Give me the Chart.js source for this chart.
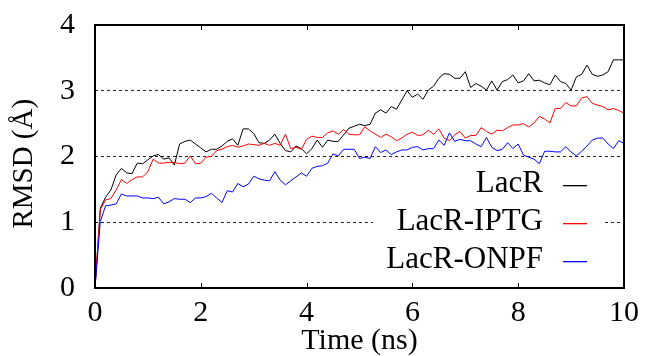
<!DOCTYPE html>
<html>
<head>
<meta charset="utf-8">
<script src="https://cdn.jsdelivr.net/npm/chart.js@4/dist/chart.umd.min.js"></script>
<style>
  html, body { margin: 0; padding: 0; background: #fff; }
  canvas { display: block; }
</style>
</head>
<body>
<canvas id="rmsd" width="645" height="356"></canvas>
<script>
// Time axis (ns), one sample every 0.1 ns
const timeNs = [
  0.0, 0.1, 0.2, 0.3, 0.4, 0.5, 0.6, 0.7, 0.8, 0.9,
  1.0, 1.1, 1.2, 1.3, 1.4, 1.5, 1.6, 1.7, 1.8, 1.9,
  2.0, 2.1, 2.2, 2.3, 2.4, 2.5, 2.6, 2.7, 2.8, 2.9,
  3.0, 3.1, 3.2, 3.3, 3.4, 3.5, 3.6, 3.7, 3.8, 3.9,
  4.0, 4.1, 4.2, 4.3, 4.4, 4.5, 4.6, 4.7, 4.8, 4.9,
  5.0, 5.1, 5.2, 5.3, 5.4, 5.5, 5.6, 5.7, 5.8, 5.9,
  6.0, 6.1, 6.2, 6.3, 6.4, 6.5, 6.6, 6.7, 6.8, 6.9,
  7.0, 7.1, 7.2, 7.3, 7.4, 7.5, 7.6, 7.7, 7.8, 7.9,
  8.0, 8.1, 8.2, 8.3, 8.4, 8.5, 8.6, 8.7, 8.8, 8.9,
  9.0, 9.1, 9.2, 9.3, 9.4, 9.5, 9.6, 9.7, 9.8, 9.9,
  10.0
];

// RMSD (Angstrom)
const lacR = [
  0.00, 1.21, 1.38, 1.49, 1.72, 1.82, 1.75, 1.74, 1.90, 1.89,
  1.95, 2.01, 2.03, 1.96, 1.98, 1.87, 2.19, 2.23, 2.25, 2.19,
  2.13, 2.07, 2.11, 2.11, 2.16, 2.23, 2.27, 2.17, 2.42, 2.42,
  2.35, 2.21, 2.20, 2.25, 2.34, 2.20, 2.09, 2.07, 2.16, 2.12,
  2.04, 2.12, 2.25, 2.14, 2.25, 2.23, 2.23, 2.33, 2.43, 2.46,
  2.49, 2.47, 2.49, 2.66, 2.71, 2.66, 2.76, 2.72, 2.86, 3.00,
  2.90, 2.95, 2.87, 3.01, 3.07, 3.19, 3.26, 3.25, 3.19, 3.19,
  3.29, 3.05, 3.11, 3.07, 3.01, 3.15, 3.01, 3.14, 3.17, 3.24,
  3.12, 3.15, 3.26, 3.15, 3.16, 3.12, 3.09, 3.24, 3.14, 3.11,
  3.01, 3.21, 3.25, 3.39, 3.25, 3.22, 3.24, 3.29, 3.47, 3.47,
  3.47
];
const lacRIptg = [
  0.00, 1.19, 1.34, 1.36, 1.49, 1.65, 1.59, 1.65, 1.69, 1.69,
  1.77, 1.96, 1.90, 1.90, 1.91, 1.91, 1.89, 1.90, 2.01, 1.89,
  1.90, 1.99, 2.00, 2.09, 2.11, 2.15, 2.17, 2.14, 2.16, 2.19,
  2.18, 2.17, 2.20, 2.17, 2.20, 2.17, 2.34, 2.12, 2.14, 2.11,
  2.26, 2.31, 2.29, 2.29, 2.36, 2.39, 2.34, 2.41, 2.34, 2.33,
  2.33, 2.45, 2.39, 2.34, 2.29, 2.34, 2.30, 2.24, 2.28, 2.34,
  2.37, 2.32, 2.33, 2.40, 2.34, 2.42, 2.28, 2.24, 2.33, 2.38,
  2.28, 2.32, 2.32, 2.44, 2.38, 2.34, 2.40, 2.39, 2.44, 2.48,
  2.48, 2.50, 2.45, 2.51, 2.61, 2.57, 2.51, 2.73, 2.73, 2.82,
  2.77, 2.77, 2.89, 2.91, 2.81, 2.78, 2.76, 2.71, 2.73, 2.70,
  2.66
];
const lacROnpf = [
  0.00, 1.01, 1.25, 1.26, 1.28, 1.43, 1.40, 1.40, 1.40, 1.37,
  1.37, 1.36, 1.38, 1.28, 1.31, 1.36, 1.35, 1.35, 1.30, 1.37,
  1.37, 1.39, 1.44, 1.37, 1.30, 1.48, 1.46, 1.59, 1.54, 1.58,
  1.70, 1.66, 1.64, 1.63, 1.77, 1.64, 1.57, 1.63, 1.69, 1.75,
  1.70, 1.82, 1.85, 1.86, 1.90, 2.04, 2.01, 2.11, 2.11, 2.11,
  1.97, 1.99, 1.97, 2.15, 2.06, 2.10, 2.03, 2.07, 2.10, 2.10,
  2.14, 2.15, 2.10, 2.12, 2.12, 2.25, 2.17, 2.36, 2.23, 2.26,
  2.24, 2.24, 2.19, 2.15, 2.29, 2.14, 2.09, 2.11, 2.21, 2.12,
  2.19, 2.02, 1.99, 1.96, 1.89, 2.08, 2.08, 2.07, 2.07, 2.15,
  2.07, 2.01, 2.08, 2.16, 2.25, 2.28, 2.28, 2.19, 2.12, 2.24,
  2.20
];

const seriesNames = ['LacR', 'LacR-IPTG', 'LacR-ONPF'];
const seriesColors = ['#000000', '#ff0000', '#0000ff'];
const yGridValues = [1, 2, 3];
const xInnerTicks = [2, 4, 6, 8];

const SERIF = "'Liberation Serif', 'Times New Roman', serif";

function toPoints(ys) {
  return ys.map((y, i) => ({ x: timeNs[i], y: y }));
}

// gnuplot-style frame, inward x ticks and bottom-right key
const gnuplotLook = {
  id: 'gnuplotLook',
  afterDatasetsDraw(chart) {
    const { ctx, chartArea: a, scales } = chart;
    ctx.save();

    // key box (white, hides the grid line behind it)
    const textBase = [192, 230, 267.5];
    const sampleY = [185, 223, 261];
    ctx.fillStyle = '#fff';
    ctx.fillRect(373, 166, 603 - 373, 112);

    ctx.font = '31px ' + SERIF;
    ctx.textAlign = 'right';
    ctx.textBaseline = 'alphabetic';
    seriesNames.forEach((name, i) => {
      ctx.fillStyle = '#000';
      ctx.fillText(name, 543, textBase[i]);
      // sample line as a thin filled strip in the series colour
      ctx.fillStyle = seriesColors[i];
      ctx.fillRect(563, sampleY[i], 24, 1.3);
    });

    // inward ticks on bottom and top
    ctx.strokeStyle = '#000';
    ctx.lineWidth = 1;
    xInnerTicks.forEach(v => {
      const px = Math.round(scales.x.getPixelForValue(v)) + 0.5;
      ctx.beginPath();
      ctx.moveTo(px, a.bottom);
      ctx.lineTo(px, a.bottom - 5);
      ctx.moveTo(px, a.top);
      ctx.lineTo(px, a.top + 5);
      ctx.stroke();
    });

    // frame
    ctx.lineWidth = 2;
    ctx.strokeRect(a.left, a.top, a.right - a.left, a.bottom - a.top);
    ctx.restore();
  }
};

const datasets = [lacR, lacRIptg, lacROnpf].map((ys, i) => ({
  label: seriesNames[i],
  data: toPoints(ys),
  borderColor: seriesColors[i],
  borderWidth: 1,
  pointRadius: 0,
  tension: 0,
  fill: false,
  order: 3 - i
}));

new Chart(document.getElementById('rmsd').getContext('2d'), {
  type: 'line',
  data: { datasets: datasets },
  options: {
    responsive: false,
    devicePixelRatio: 1,
    animation: false,
    layout: { padding: { left: 0, top: 25, right: 21, bottom: 0 } },
    plugins: {
      legend: { display: false },
      tooltip: { enabled: false }
    },
    scales: {
      x: {
        type: 'linear',
        min: 0,
        max: 10,
        afterFit: s => {
          s.height = 68;
          s.paddingLeft = 0;
          s.paddingRight = 0;
        },
        ticks: {
          stepSize: 2,
          color: '#000',
          padding: 7,
          font: { family: SERIF, size: 30 }
        },
        grid: { display: false, drawTicks: false },
        border: { display: false },
        title: {
          display: true,
          text: 'Time (ns)',
          color: '#000',
          padding: { top: 0, bottom: -3 },
          font: { family: SERIF, size: 30 }
        }
      },
      y: {
        min: 0,
        max: 4,
        afterFit: s => {
          s.width = 95;
          s.paddingTop = 0;
          s.paddingBottom = 0;
        },
        ticks: {
          stepSize: 1,
          color: '#000',
          padding: 20,
          font: { family: SERIF, size: 30 }
        },
        grid: {
          drawTicks: false,
          lineWidth: 1,
          color: c => yGridValues.includes(c.tick && c.tick.value) ? '#222' : 'rgba(0,0,0,0)'
        },
        border: { display: false, dash: [3, 3] },
        title: {
          display: true,
          text: 'RMSD (Å)\u00a0\u00a0',
          color: '#000',
          padding: { top: 7, bottom: 0 },
          font: { family: SERIF, size: 29 }
        }
      }
    }
  },
  plugins: [gnuplotLook]
});
</script>
</body>
</html>
